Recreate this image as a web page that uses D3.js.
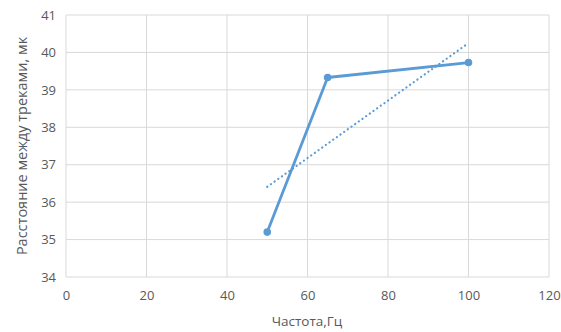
<!DOCTYPE html>
<html>
<head>
<meta charset="utf-8">
<script src="https://cdn.jsdelivr.net/npm/d3@7.9.0/dist/d3.min.js"></script>
<style>
  body { margin: 0; background: #fff; }
  svg text { font-family: "Open Sans", "Liberation Sans", sans-serif; fill: #595959; }
</style>
</head>
<body>
<svg id="chart" width="561" height="332"></svg>
<script>
// data
const freq = [50, 65, 100];
const distance = [35.2, 39.33, 39.73];
// linear trendline endpoints
const trendX = [50, 100];
const trendY = [36.41, 40.25];
const xTicks = [0, 20, 40, 60, 80, 100, 120];
const yTicks = [34, 35, 36, 37, 38, 39, 40, 41];

const svg = d3.select('#chart');
const margin = { left: 66, right: 12, top: 15, bottom: 55 };
const width = 561, height = 332;

const x = d3.scaleLinear().domain([0, 120]).range([margin.left, width - margin.right]);
const y = d3.scaleLinear().domain([34, 41]).range([height - margin.bottom, margin.top]);

//grid
svg.append('g')
    .selectAll('line.h')
    .data(yTicks)
    .join('line')
    .attr('x1', x(0)).attr('x2', x(120))
    .attr('y1', d => y(d)).attr('y2', d => y(d))
    .attr('stroke', '#d9d9d9').attr('stroke-width', 1);

svg.append('g')
    .selectAll('line.v')
    .data(xTicks)
    .join('line')
    .attr('y1', y(34)).attr('y2', y(41))
    .attr('x1', d => x(d)).attr('x2', d => x(d))
    .attr('stroke', '#d9d9d9').attr('stroke-width', 1);

//axes
const xAxis = svg.append('g')
    .attr('transform', `translate(0,${y(34)})`)
    .call(d3.axisBottom(x).tickValues(xTicks).tickFormat(d3.format('d')).tickSize(0).tickPadding(14));
const yAxis = svg.append('g')
    .attr('transform', `translate(${x(0)},0)`)
    .call(d3.axisLeft(y).tickValues(yTicks).tickFormat(d3.format('d')).tickSize(0).tickPadding(10));
[xAxis, yAxis].forEach(a => {
    a.select('.domain').remove();
    a.selectAll('text').style('font-size', '13px').attr('fill', '#595959');
});

//trendline
svg.append('path')
    .datum(trendX.map((d, i) => [d, trendY[i]]))
    .attr('d', d3.line().x(d => x(d[0])).y(d => y(d[1])))
    .attr('fill', 'none')
    .attr('stroke', '#5b9bd5')
    .attr('stroke-width', 2.2)
    .attr('stroke-linecap', 'round')
    .attr('stroke-dasharray', '0.1,4.4');

//series
const pts = freq.map((d, i) => [d, distance[i]]);
svg.append('path')
    .datum(pts)
    .attr('d', d3.line().x(d => x(d[0])).y(d => y(d[1])))
    .attr('fill', 'none')
    .attr('stroke', '#5b9bd5')
    .attr('stroke-width', 2.8)
    .attr('stroke-linejoin', 'round');

svg.append('g')
    .selectAll('circle')
    .data(pts)
    .join('circle')
    .attr('cx', d => x(d[0]))
    .attr('cy', d => y(d[1]))
    .attr('r', 3.8)
    .attr('fill', '#5b9bd5');

//titles
svg.append('text')
    .attr('x', 307).attr('y', 326)
    .attr('text-anchor', 'middle')
    .style('font-size', '13.5px')
    .text('Частота,Гц');

svg.append('text')
    .attr('transform', `translate(27,${(y(34) + y(41)) / 2}) rotate(-90)`)
    .attr('text-anchor', 'middle')
    .style('font-size', '14.5px')
    .text('Расстояние между треками, мк');
</script>
</body>
</html>
